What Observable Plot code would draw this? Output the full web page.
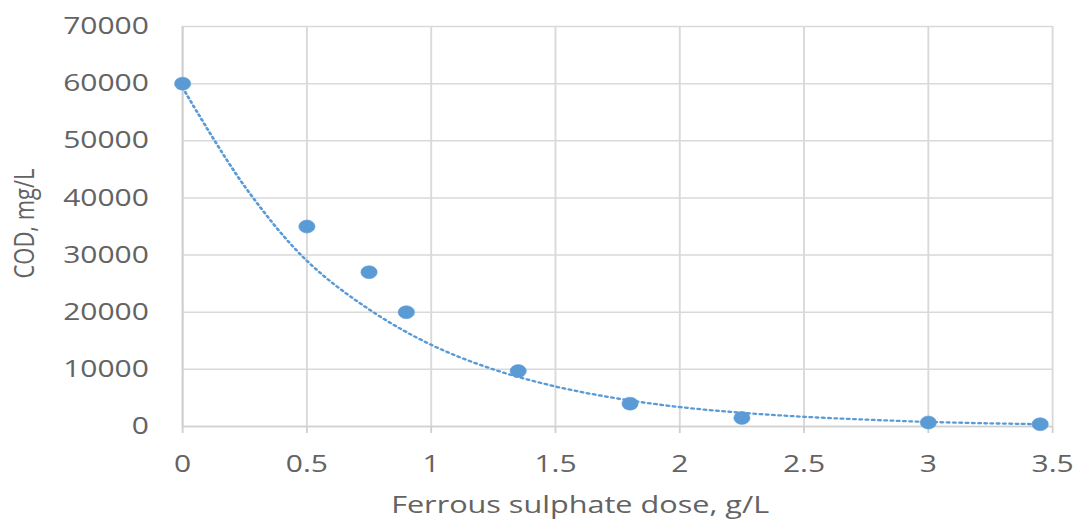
<!DOCTYPE html>
<html>
<head>
<meta charset="utf-8">
<script src="https://cdn.jsdelivr.net/npm/d3@7"></script>
<script src="https://cdn.jsdelivr.net/npm/@observablehq/plot@0.6"></script>
<style>
  html, body { margin: 0; padding: 0; background: #fff; }
  #chart { width: 1073px; height: 521px; overflow: hidden; }
</style>
</head>
<body>
<div id="chart"></div>
<script>
// Measured data points
const doses = [0, 0.5, 0.75, 0.9, 1.35, 1.8, 2.25, 3, 3.45];
const cod   = [60000, 35000, 27000, 20000, 9700, 4000, 1500, 700, 400];

// Exponential trendline
const trendDoses = [0, 0.25, 0.5, 0.75, 1.0, 1.25, 1.5, 1.75, 2.0, 2.25, 2.5, 2.75, 3.0, 3.25, 3.45];
const trendCod   = [59300, 42000, 29000, 20500, 14300, 10000, 7000, 4900, 3400, 2400, 1700, 1200, 800, 550, 400];

const xTicks = [0, 0.5, 1, 1.5, 2, 2.5, 3, 3.5];
const yTicks = [0, 10000, 20000, 30000, 40000, 50000, 60000, 70000];

const xTitle = "Ferrous sulphate dose, g/L";
const yTitle = "COD, mg/L";

const points = doses.map((d, i) => ({dose: d, cod: cod[i]}));
const trend = trendDoses.map((d, i) => ({dose: d, cod: trendCod[i]}));

const S = 1.25;            // horizontal stretch of the reference
const W = 1073 / S;
const H = 521;
const font = "'Open Sans', sans-serif";
const grid = "#d9d9d9";
const textColor = "#636363";
const blue = "#5b9bd5";

const plot = Plot.plot({
  width: W,
  height: H,
  marginLeft: 145.6,
  marginRight: 16.8,
  marginTop: 26,
  marginBottom: 95,
  style: {fontFamily: font, background: "#fff"},
  x: {domain: [0, 3.5]},
  y: {domain: [0, 70000]},
  marks: [
    Plot.gridX(xTicks, {stroke: grid, strokeOpacity: 1, strokeWidth: 1.5}),
    Plot.gridY(yTicks, {stroke: grid, strokeOpacity: 1, strokeWidth: 1.5}),
    Plot.ruleX([0], {stroke: "#d0d0d0", strokeWidth: 1.5}),
    Plot.ruleY([0], {stroke: "#d0d0d0", strokeWidth: 1.5}),
    Plot.axisX({ticks: xTicks, tickSize: 7, stroke: "#d0d0d0", strokeWidth: 1.5,
                tickPadding: 21, fontSize: 24, fill: textColor, label: null,
                tickFormat: d => String(d)}),
    Plot.axisY({ticks: yTicks, tickSize: 0, tickPadding: 27, fontSize: 24,
                fill: textColor, label: null, tickFormat: d => String(d)}),
    Plot.line(trend, {x: "dose", y: "cod", stroke: blue, strokeWidth: 2.3,
                      strokeDasharray: "1.8,3.2", curve: "catmull-rom"}),
    Plot.dot(points, {x: "dose", y: "cod", r: 6.5, fill: blue, stroke: blue, strokeWidth: 0.5}),
    Plot.text([xTitle], {frameAnchor: "bottom", dy: 86, dx: -30, fontSize: 24.5,
                         fill: textColor, text: d => d}),
    Plot.text([yTitle], {frameAnchor: "left", textAnchor: "middle", dx: -126, dy: -3,
                         rotate: -90, fontSize: 22, fill: textColor, text: d => d})
  ]
});

plot.setAttribute("width", 1073);
plot.setAttribute("height", H);
plot.setAttribute("preserveAspectRatio", "none");
plot.setAttribute("style", `width:1073px;height:${H}px;max-width:none;display:block;background:#fff;font-family:${font};`);
document.getElementById("chart").appendChild(plot);
</script>
</body>
</html>
